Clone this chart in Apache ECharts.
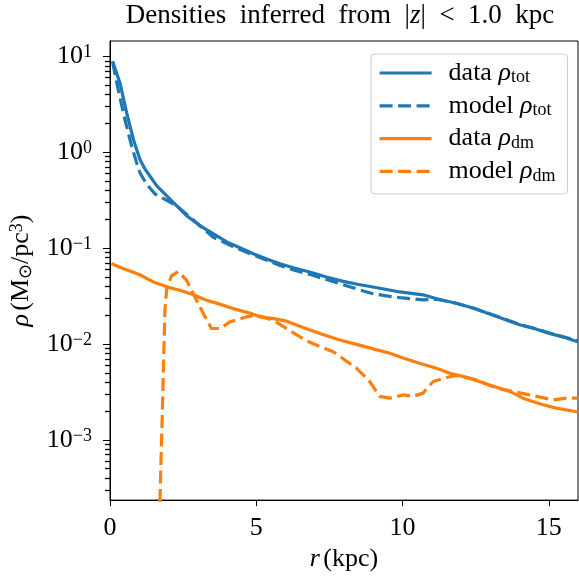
<!DOCTYPE html>
<html>
<head>
<meta charset="utf-8">
<script src="https://cdn.jsdelivr.net/npm/echarts@6/dist/echarts.min.js"></script>
<style>html,body{margin:0;padding:0;background:#fff}#c{width:579px;height:577px}</style>
</head>
<body>
<div id="c"></div>
<script>
// ---- data (r in kpc, rho in Msun/pc^3) ----
var totDataR = [0.09, 0.34, 0.57, 0.8, 1.02, 1.2, 1.6, 2.05, 2.62, 3.07, 3.64, 3.99, 4.5, 4.9, 5.4, 5.81, 6.3, 6.83, 7.4, 7.97, 8.5, 8.99, 9.5, 9.91, 10.3, 10.7, 11.2, 11.8, 12.41, 13.2, 14.0, 14.5, 15.03, 15.5, 15.94, 16.0];
var totDataV = [8.9, 5.3, 2.58, 1.36, 0.845, 0.665, 0.447, 0.325, 0.218, 0.172, 0.135, 0.116, 0.099, 0.0873, 0.076, 0.0687, 0.062, 0.0563, 0.050, 0.045, 0.0418, 0.0393, 0.0368, 0.0349, 0.0338, 0.0326, 0.0295, 0.0268, 0.0237, 0.0195, 0.0159, 0.0145, 0.0129, 0.0118, 0.0107, 0.0105];

var totModelR = [0.09, 0.28, 0.51, 0.74, 0.91, 1.02, 1.25, 1.54, 1.82, 2.28, 2.7, 3.07, 3.53, 4.2, 4.9, 5.4, 5.81, 6.3, 6.83, 7.4, 7.97, 8.5, 8.99, 9.5, 9.91, 10.3, 10.7, 11.2, 11.8, 12.41, 13.2, 14.0, 14.5, 15.03, 15.5, 16.0];
var totModelV = [8.7, 4.5, 2.2, 1.16, 0.78, 0.615, 0.466, 0.367, 0.33, 0.277, 0.215, 0.172, 0.13, 0.104, 0.085, 0.074, 0.066, 0.059, 0.0533, 0.047, 0.0416, 0.037, 0.0335, 0.0316, 0.0305, 0.0297, 0.0289, 0.0292, 0.0268, 0.0237, 0.0196, 0.016, 0.0146, 0.013, 0.0119, 0.0108];

var dmDataR = [0.05, 0.4, 0.8, 1.02, 1.48, 2.0, 2.39, 2.85, 3.3, 3.64, 4.21, 4.78, 5.12, 5.6, 6.04, 6.49, 7.2, 7.86, 8.43, 9.0, 9.57, 10.0, 10.47, 11.16, 11.62, 12.3, 12.98, 13.67, 14.12, 14.8, 15.26, 16.0];
var dmDataV = [0.069, 0.062, 0.056, 0.0528, 0.0444, 0.039, 0.0363, 0.0326, 0.0286, 0.0267, 0.0234, 0.021, 0.0192, 0.0184, 0.0173, 0.0153, 0.0128, 0.011, 0.0099, 0.0089, 0.008, 0.0072, 0.00644, 0.00558, 0.00495, 0.0044, 0.00374, 0.0032, 0.00272, 0.00232, 0.00214, 0.00195];

var dmModelR = [1.62, 1.71, 1.78, 1.84, 1.88, 1.94, 2.11, 2.33, 2.62, 2.9, 3.25, 3.47, 3.76, 4.1, 4.67, 5.01, 5.58, 6.04, 6.49, 6.83, 7.63, 8.43, 8.88, 9.22, 9.57, 10.02, 10.36, 10.7, 11.05, 11.5, 11.84, 12.53, 13.21, 13.67, 14.35, 15.15, 15.6, 16.0];
var dmModelV = [0.00001, 0.00025, 0.0015, 0.008, 0.0234, 0.038, 0.0518, 0.057, 0.046, 0.031, 0.0192, 0.0145, 0.0145, 0.017, 0.0192, 0.020, 0.0177, 0.0145, 0.0119, 0.0104, 0.0083, 0.00558, 0.00406, 0.00284, 0.00272, 0.00294, 0.00284, 0.00307, 0.00406, 0.00447, 0.00469, 0.00422, 0.00346, 0.00324, 0.00294, 0.00261, 0.00272, 0.00272];

var xTicks = [0, 5, 10, 15];
var yMajor = [1e-3, 1e-2, 1e-1, 1, 10];
var yMinor = [];
[1e-4, 1e-3, 1e-2, 1e-1, 1, 10].forEach(function (d) { for (var k = 2; k <= 9; k++) { var v = d * k; if (v > 2.35e-4 && v < 14.5) yMinor.push(v); } });
var yMinorLog = yMinor.map(function (v) { return Math.log(v) / Math.LN10; });

function zip(a, b) { return a.map(function (v, i) { return [v, b[i]]; }); }

var FONT = 'Liberation Serif';
var FS = 26, FSS = 18;
var BLUE = '#1f77b4', ORANGE = '#ff7f0e';
var DASH = [13, 5.5];
var LW = 3.2;
var YMIN = 2.35e-4, YMAX = 14.5;

var chart = echarts.init(document.getElementById('c'), null, {renderer: 'canvas'});

var richBase = {
  n: {fontFamily: FONT, fontSize: FS, color: '#000', lineHeight: 27},
  i: {fontFamily: FONT, fontSize: FS, fontStyle: 'italic', color: '#000', lineHeight: 27},
  g: {fontFamily: FONT, fontSize: FS, width: 12, lineHeight: 27},
  sub: {fontFamily: FONT, fontSize: FSS, color: '#000', lineHeight: 12, verticalAlign: 'bottom'},
  sup: {fontFamily: FONT, fontSize: FSS, color: '#000', lineHeight: 10, verticalAlign: 'top'}
};
var richTitle = {
  n: {fontFamily: FONT, fontSize: 27, color: '#000', lineHeight: 28},
  i: {fontFamily: FONT, fontSize: 27, fontStyle: 'italic', color: '#000', lineHeight: 28}
};

function legendFmt(name) {
  var parts = name.split(' ');
  return '{g|\u00a0}{n|' + parts[0] + ' }{i|ρ}{sub|' + parts[1] + '}';
}

function mkLine(name, r, v, color, dashed) {
  return {
    name: name,
    type: 'line',
    yAxisIndex: 0,
    data: zip(r, v),
    showSymbol: false,
    symbol: 'none',
    clip: true,
    lineStyle: {color: color, width: LW, type: dashed ? DASH : 'solid', cap: 'butt', join: 'round'},
    itemStyle: {color: color},
    emphasis: {disabled: true},
    animation: false
  };
}

var SP = '\u2002';
chart.setOption({
  animation: false,
  backgroundColor: '#fff',
  title: {
    text: '{n|Densities' + SP + 'inferred' + SP + 'from' + SP + '}{n||}{i|z}{n||' + SP + '<' + SP + '1.0' + SP + 'kpc}',
    left: 340,
    top: 2,
    padding: 0,
    textAlign: 'center',
    textStyle: {rich: richTitle, fontFamily: FONT, fontSize: 27, fontWeight: 'normal'}
  },
  grid: {left: 110, right: 1, top: 41, bottom: 74, show: true, borderColor: '#000', borderWidth: 1, containLabel: false},
  legend: {
    orient: 'vertical',
    left: 371,
    top: 54,
    padding: [6, 12, 9, 7],
    itemWidth: 52,
    itemHeight: 16,
    itemGap: 6.3,
    backgroundColor: 'rgba(255,255,255,0.8)',
    borderColor: '#cccccc',
    borderWidth: 1,
    borderRadius: 4,
    selectedMode: false,
    itemStyle: {opacity: 0},
    lineStyle: {width: LW},
    formatter: legendFmt,
    textStyle: {rich: richBase, fontFamily: FONT, fontSize: FS},
    data: ['data tot', 'model tot', 'data dm', 'model dm']
  },
  xAxis: {
    type: 'value',
    min: 0,
    max: 16,
    name: '{i|r} {n|(kpc)}',
    nameLocation: 'middle',
    nameGap: 43,
    nameTextStyle: {rich: richBase},
    axisLine: {show: true, onZero: false, lineStyle: {color: '#000', width: 1}},
    axisTick: {show: true, length: 6, lineStyle: {color: '#000', width: 1}, customValues: xTicks},
    axisLabel: {customValues: xTicks, margin: 15, fontFamily: FONT, fontSize: FS, color: '#000'},
    splitLine: {show: false}
  },
  yAxis: [{
    type: 'log',
    logBase: 10,
    min: YMIN,
    max: YMAX,
    position: 'left',
    name: '{i|ρ} {n|(M}{sub|⊙}{n|/pc}{sup|3}{n|)}',
    nameLocation: 'middle',
    nameRotate: 90,
    nameGap: 75,
    nameTextStyle: {rich: richBase},
    axisLine: {show: true, onZero: false, lineStyle: {color: '#000', width: 1}},
    axisTick: {show: true, length: 7, lineStyle: {color: '#000', width: 1}, customValues: yMajor},
    axisLabel: {
      customValues: yMajor,
      margin: 18,
      formatter: function (v) {
        var e = Math.round(Math.log(v) / Math.LN10);
        return '{b|10}{s|' + (e < 0 ? '−' + (-e) : e) + '}';
      },
      rich: {
        b: {fontFamily: FONT, fontSize: FS, color: '#000', lineHeight: 26},
        s: {fontFamily: FONT, fontSize: FSS, color: '#000', lineHeight: 10, verticalAlign: 'top'}
      }
    },
    splitLine: {show: false}
  }, {
    type: 'value',
    min: Math.log(YMIN) / Math.LN10,
    max: Math.log(YMAX) / Math.LN10,
    position: 'left',
    offset: 0,
    axisLine: {show: true, lineStyle: {color: '#000', width: 1}},
    axisTick: {show: true, length: 5, lineStyle: {color: '#000', width: 1.3}, customValues: yMinorLog},
    axisLabel: {show: false},
    splitLine: {show: false}
  }],
  series: [
    mkLine('data tot', totDataR, totDataV, BLUE, false),
    mkLine('model tot', totModelR, totModelV, BLUE, true),
    mkLine('data dm', dmDataR, dmDataV, ORANGE, false),
    mkLine('model dm', dmModelR, dmModelV, ORANGE, true)
  ]
});
</script>
</body>
</html>
